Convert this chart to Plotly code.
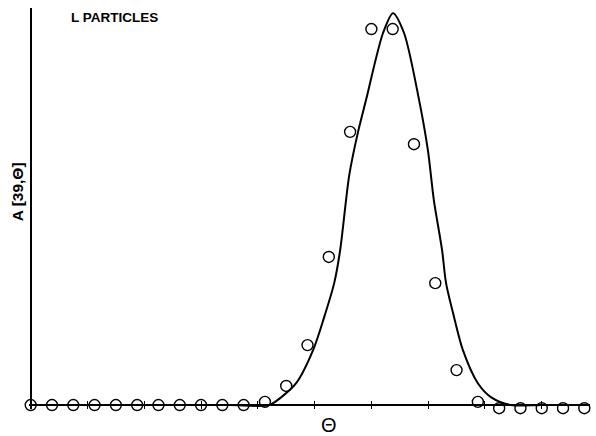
import plotly.graph_objects as go

# Measured points (theta in degrees, amplitude normalised to axis height)
theta_pts = [0, 7.5, 15, 22.5, 30, 37.5, 45, 52.5, 60, 67.5, 75, 82.5, 90, 97.5,
             105, 112.5, 120, 127.5, 135, 142.5, 150, 157.5, 165, 172.5, 180, 187.5, 195]
amp_pts = [0, 0, 0, 0, 0, 0, 0, 0, 0, 0, 0, 0.008, 0.048, 0.151,
           0.373, 0.688, 0.947, 0.947, 0.657, 0.307, 0.088, 0.008, -0.008, -0.008, -0.008, -0.008, -0.008]

# Fitted curve
theta_fit = [0, 40, 70, 84.0, 88.3, 93.5, 99.5, 103.4, 106.9, 109.0, 112.2, 115.3, 118.1,
             124.1, 127.6, 131.5, 136.8, 139.9, 142.0, 144.9, 146.3, 149.1, 152.2,
             157.5, 162.1, 169.1, 180, 197]
amp_fit = [0, 0, 0, 0, 0.020, 0.055, 0.139, 0.222, 0.307, 0.390, 0.579, 0.688, 0.768,
           0.937, 0.987, 0.937, 0.768, 0.642, 0.516, 0.390, 0.307, 0.222, 0.139,
           0.055, 0.020, 0, 0, 0]

x_ticks = [20, 40, 60, 80, 100, 120, 140, 160, 180]

fig = go.Figure()
fig.add_trace(go.Scatter(x=theta_fit, y=amp_fit, mode="lines",
                         line=dict(color="black", width=2, shape="spline", smoothing=0.8),
                         cliponaxis=False, showlegend=False, hoverinfo="skip"))
fig.add_trace(go.Scatter(x=theta_pts, y=amp_pts, mode="markers",
                         marker=dict(symbol="circle-open", size=11, color="black",
                                     line=dict(width=1.4, color="black")),
                         cliponaxis=False, showlegend=False))

fig.update_layout(
    width=596, height=436,
    margin=dict(l=29, r=6, t=8, b=27),
    paper_bgcolor="white", plot_bgcolor="white",
    font=dict(family="Liberation Sans, Arial, sans-serif", color="black"),
    xaxis=dict(range=[-0.6, 197], showgrid=False, automargin=False,
               zeroline=True, zerolinecolor="black", zerolinewidth=1.6,
               showline=False,
               ticks="inside", ticklen=8, tickwidth=1, tickcolor="black",
               tickvals=x_ticks, showticklabels=False),
    yaxis=dict(range=[-0.01, 1.0], showgrid=False, automargin=False,
               zeroline=True, zerolinecolor="black", zerolinewidth=1.6,
               showline=False,
               ticks="inside", ticklen=6, tickwidth=1.2, tickcolor="black",
               tickvals=[1.0], showticklabels=False),
    annotations=[
        dict(text="<b>L PARTICLES</b>", x=0.072, y=1.0, xref="paper", yref="paper",
             xanchor="left", yanchor="top", showarrow=False,
             font=dict(size=13.5, color="black")),
        dict(text="<b>A [39,Θ]</b>", x=-0.021, y=0.541, xref="paper", yref="paper",
             xanchor="center", yanchor="middle", textangle=-90, showarrow=False,
             font=dict(size=15.5, color="black")),
        dict(text="Θ", x=0.534, y=-0.04, xref="paper", yref="paper",
             xanchor="center", yanchor="middle", showarrow=False,
             font=dict(size=20, color="black")),
    ],
)

fig.write_html("out.html", config={"displayModeBar": False},
               post_script="document.body.style.margin='0';document.body.style.overflow='hidden';")
